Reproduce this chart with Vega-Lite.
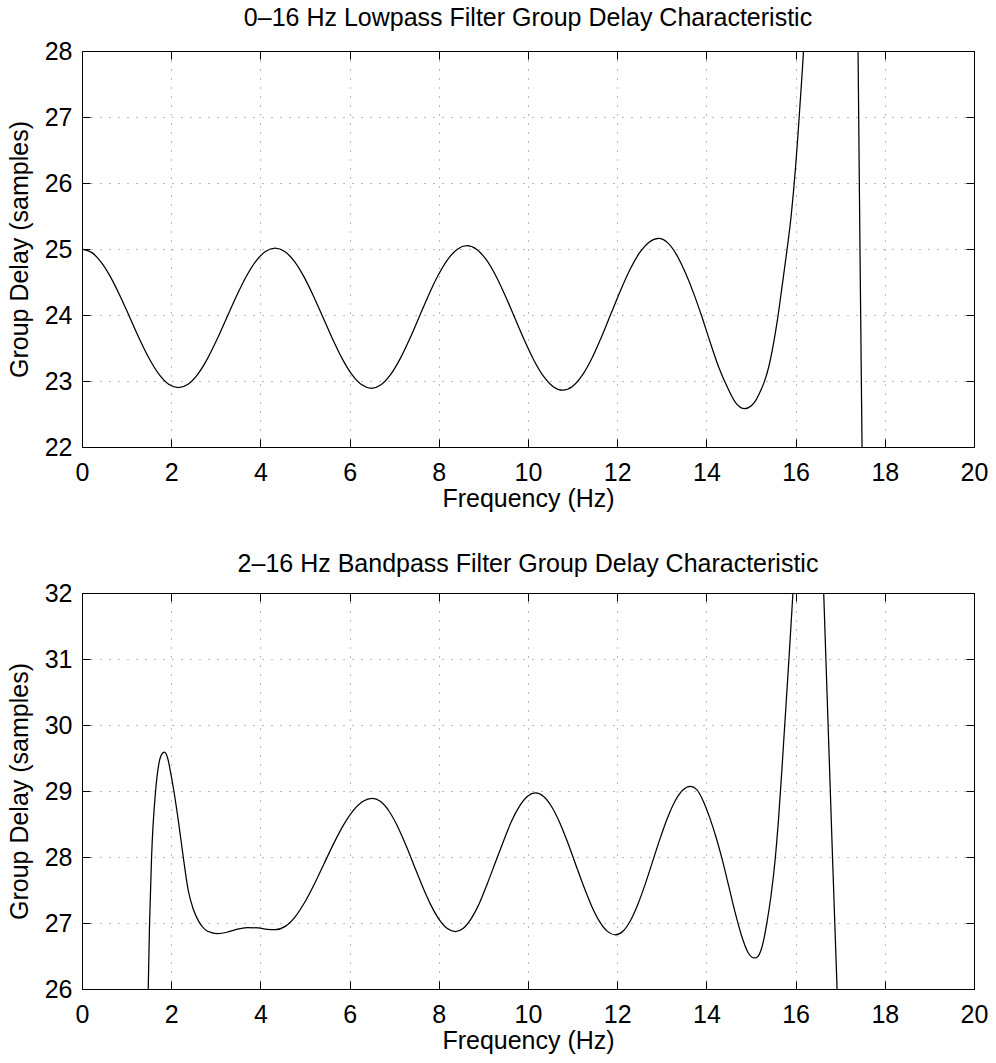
{
  "$schema": "https://vega.github.io/schema/vega-lite/v6.json",
  "background": "white",
  "padding": {"left": 7, "top": 6, "right": 10, "bottom": 3},
  "spacing": 41,
  "datasets": {
    "lp": [
      {"f": 0, "gd": 25.0}, {"f": 0.216, "gd": 24.949}, {"f": 0.432, "gd": 24.799}, {"f": 0.648, "gd": 24.567},
      {"f": 0.864, "gd": 24.274}, {"f": 1.08, "gd": 23.95}, {"f": 1.296, "gd": 23.626}, {"f": 1.512, "gd": 23.333},
      {"f": 1.728, "gd": 23.101}, {"f": 1.944, "gd": 22.951}, {"f": 2.16, "gd": 22.9}, {"f": 2.377, "gd": 22.952},
      {"f": 2.594, "gd": 23.102}, {"f": 2.811, "gd": 23.336}, {"f": 3.028, "gd": 23.631}, {"f": 3.245, "gd": 23.958},
      {"f": 3.462, "gd": 24.284}, {"f": 3.679, "gd": 24.579}, {"f": 3.896, "gd": 24.813}, {"f": 4.113, "gd": 24.963},
      {"f": 4.33, "gd": 25.015}, {"f": 4.546, "gd": 24.963}, {"f": 4.762, "gd": 24.812}, {"f": 4.978, "gd": 24.577},
      {"f": 5.194, "gd": 24.281}, {"f": 5.41, "gd": 23.953}, {"f": 5.626, "gd": 23.624}, {"f": 5.842, "gd": 23.328},
      {"f": 6.058, "gd": 23.093}, {"f": 6.274, "gd": 22.942}, {"f": 6.49, "gd": 22.89}, {"f": 6.704, "gd": 22.943},
      {"f": 6.918, "gd": 23.096}, {"f": 7.132, "gd": 23.335}, {"f": 7.346, "gd": 23.636}, {"f": 7.56, "gd": 23.97},
      {"f": 7.774, "gd": 24.304}, {"f": 7.988, "gd": 24.605}, {"f": 8.202, "gd": 24.844}, {"f": 8.416, "gd": 24.997},
      {"f": 8.63, "gd": 25.05}, {"f": 8.845, "gd": 24.996}, {"f": 9.06, "gd": 24.841}, {"f": 9.275, "gd": 24.599},
      {"f": 9.49, "gd": 24.293}, {"f": 9.705, "gd": 23.955}, {"f": 9.92, "gd": 23.617}, {"f": 10.135, "gd": 23.311},
      {"f": 10.35, "gd": 23.069}, {"f": 10.565, "gd": 22.914}, {"f": 10.78, "gd": 22.86}, {"f": 10.995, "gd": 22.916},
      {"f": 11.21, "gd": 23.08}, {"f": 11.425, "gd": 23.334}, {"f": 11.64, "gd": 23.655}, {"f": 11.855, "gd": 24.01},
      {"f": 12.07, "gd": 24.365}, {"f": 12.285, "gd": 24.686}, {"f": 12.5, "gd": 24.94}, {"f": 12.715, "gd": 25.104},
      {"f": 12.93, "gd": 25.16}, {"f": 13.123, "gd": 25.1}, {"f": 13.316, "gd": 24.93}, {"f": 13.509, "gd": 24.67},
      {"f": 13.702, "gd": 24.35}, {"f": 13.895, "gd": 23.98}, {"f": 14.088, "gd": 23.58}, {"f": 14.281, "gd": 23.2},
      {"f": 14.474, "gd": 22.9}, {"f": 14.667, "gd": 22.66}, {"f": 14.86, "gd": 22.58}, {"f": 15.0, "gd": 22.62},
      {"f": 15.1, "gd": 22.7}, {"f": 15.2, "gd": 22.83}, {"f": 15.3, "gd": 22.99}, {"f": 15.4, "gd": 23.22},
      {"f": 15.5, "gd": 23.55}, {"f": 15.6, "gd": 23.96}, {"f": 15.7, "gd": 24.45}, {"f": 15.8, "gd": 24.95},
      {"f": 15.9, "gd": 25.5}, {"f": 15.95, "gd": 25.85}, {"f": 16.0, "gd": 26.25}, {"f": 16.05, "gd": 26.7},
      {"f": 16.1, "gd": 27.2}, {"f": 16.15, "gd": 27.7}, {"f": 16.2, "gd": 28.25}, {"f": 16.3, "gd": 29.6},
      {"f": 16.5, "gd": 34}, {"f": 16.8, "gd": 42}, {"f": 17.1, "gd": 40},
      {"f": 17.3, "gd": 32}, {"f": 17.4, "gd": 28.0}, {"f": 17.49, "gd": 22.0}, {"f": 17.55, "gd": 20.5}
    ],
    "bp": [
      {"f": 1.40, "gd": 24.0}, {"f": 1.485, "gd": 26.0}, {"f": 1.515, "gd": 27.0}, {"f": 1.56, "gd": 28.0},
      {"f": 1.65, "gd": 29.0}, {"f": 1.72, "gd": 29.4}, {"f": 1.79, "gd": 29.56}, {"f": 1.85, "gd": 29.59},
      {"f": 1.92, "gd": 29.5}, {"f": 1.99, "gd": 29.27}, {"f": 2.06, "gd": 29.0}, {"f": 2.16, "gd": 28.55},
      {"f": 2.27, "gd": 28.0}, {"f": 2.38, "gd": 27.5}, {"f": 2.5, "gd": 27.2}, {"f": 2.62, "gd": 27.02},
      {"f": 2.76, "gd": 26.9}, {"f": 2.9, "gd": 26.855}, {"f": 3.05, "gd": 26.84}, {"f": 3.25, "gd": 26.86},
      {"f": 3.45, "gd": 26.9}, {"f": 3.7, "gd": 26.93}, {"f": 3.95, "gd": 26.925}, {"f": 4.15, "gd": 26.905},
      {"f": 4.34, "gd": 26.9}, {"f": 4.557, "gd": 26.949}, {"f": 4.774, "gd": 27.09}, {"f": 4.991, "gd": 27.31},
      {"f": 5.208, "gd": 27.588}, {"f": 5.425, "gd": 27.895}, {"f": 5.642, "gd": 28.203}, {"f": 5.859, "gd": 28.48},
      {"f": 6.076, "gd": 28.70}, {"f": 6.293, "gd": 28.841}, {"f": 6.51, "gd": 28.89}, {"f": 6.696, "gd": 28.84},
      {"f": 6.882, "gd": 28.697}, {"f": 7.068, "gd": 28.474}, {"f": 7.254, "gd": 28.192}, {"f": 7.44, "gd": 27.88},
      {"f": 7.626, "gd": 27.568}, {"f": 7.812, "gd": 27.286}, {"f": 7.998, "gd": 27.063}, {"f": 8.184, "gd": 26.92},
      {"f": 8.37, "gd": 26.87}, {"f": 8.55, "gd": 26.92}, {"f": 8.73, "gd": 27.07}, {"f": 8.91, "gd": 27.30},
      {"f": 9.09, "gd": 27.60}, {"f": 9.27, "gd": 27.92}, {"f": 9.45, "gd": 28.24}, {"f": 9.63, "gd": 28.54},
      {"f": 9.81, "gd": 28.77}, {"f": 9.99, "gd": 28.92}, {"f": 10.17, "gd": 28.97}, {"f": 10.349, "gd": 28.917},
      {"f": 10.528, "gd": 28.765}, {"f": 10.707, "gd": 28.527}, {"f": 10.886, "gd": 28.227}, {"f": 11.065, "gd": 27.895},
      {"f": 11.244, "gd": 27.563}, {"f": 11.423, "gd": 27.263}, {"f": 11.602, "gd": 27.025}, {"f": 11.781, "gd": 26.873},
      {"f": 11.96, "gd": 26.82}, {"f": 12.128, "gd": 26.875}, {"f": 12.296, "gd": 27.035}, {"f": 12.464, "gd": 27.284},
      {"f": 12.632, "gd": 27.597}, {"f": 12.8, "gd": 27.945}, {"f": 12.968, "gd": 28.293}, {"f": 13.136, "gd": 28.606},
      {"f": 13.304, "gd": 28.855}, {"f": 13.472, "gd": 29.015}, {"f": 13.64, "gd": 29.07}, {"f": 13.784, "gd": 29.02},
      {"f": 13.928, "gd": 28.85}, {"f": 14.072, "gd": 28.6}, {"f": 14.216, "gd": 28.3}, {"f": 14.36, "gd": 27.95},
      {"f": 14.504, "gd": 27.55}, {"f": 14.648, "gd": 27.15}, {"f": 14.792, "gd": 26.8}, {"f": 14.936, "gd": 26.55},
      {"f": 15.08, "gd": 26.47}, {"f": 15.15, "gd": 26.49}, {"f": 15.22, "gd": 26.58}, {"f": 15.29, "gd": 26.76},
      {"f": 15.36, "gd": 27.02}, {"f": 15.45, "gd": 27.42}, {"f": 15.54, "gd": 27.95}, {"f": 15.62, "gd": 28.6},
      {"f": 15.7, "gd": 29.4}, {"f": 15.78, "gd": 30.25}, {"f": 15.86, "gd": 31.1}, {"f": 15.94, "gd": 32.0},
      {"f": 16.02, "gd": 32.9}, {"f": 16.3, "gd": 36}, {"f": 16.5, "gd": 35}, {"f": 16.63, "gd": 32.0},
      {"f": 16.93, "gd": 26.0}, {"f": 17.0, "gd": 24.6}
    ]
  },
  "config": {
    "view": {"stroke": null},
    "title": {"font": "Liberation Sans", "fontSize": 25, "fontWeight": "normal", "color": "black", "anchor": "middle"},
    "axis": {
      "labelFont": "Liberation Sans", "labelFontSize": 25, "labelColor": "black",
      "titleFont": "Liberation Sans", "titleFontSize": 25, "titleFontWeight": "normal", "titleColor": "black",
      "domainColor": "black", "domainWidth": 1, "tickColor": "black", "tickWidth": 1, "tickSize": -8,
      "labelFlush": false, "labelOverlap": false, "labelBound": false,
      "gridColor": "black", "gridOpacity": 0.55, "gridDash": [1, 8], "gridWidth": 1
    }
  },
  "vconcat": [
    {
      "title": {"text": "0–16 Hz Lowpass Filter Group Delay Characteristic", "offset": -12, "baseline": "alphabetic"},
      "width": 892, "height": 396,
      "data": {"name": "lp"},
      "layer": [
        {
          "mark": {"type": "line", "color": "black", "strokeWidth": 1.25, "clip": true, "interpolate": "monotone"},
          "encoding": {
            "x": {"field": "f", "type": "quantitative", "scale": {"domain": [0, 20], "nice": false, "zero": false},
                  "axis": {"orient": "bottom", "values": [0, 2, 4, 6, 8, 10, 12, 14, 16, 18, 20], "title": "Frequency (Hz)", "labelPadding": 21, "titlePadding": 1, "grid": true}},
            "y": {"field": "gd", "type": "quantitative", "scale": {"domain": [22, 28], "nice": false, "zero": false},
                  "axis": {"orient": "left", "values": [22, 23, 24, 25, 26, 27, 28], "title": "Group Delay (samples)", "labelPadding": 18, "titlePadding": 12, "grid": true}}
          }
        },
        {
          "mark": {"type": "line", "opacity": 0, "clip": true},
          "encoding": {
            "x": {"field": "f", "type": "quantitative", "scale": {"domain": [0, 20], "nice": false, "zero": false},
                  "axis": {"orient": "top", "values": [0, 2, 4, 6, 8, 10, 12, 14, 16, 18, 20], "labels": false, "title": null, "grid": false}},
            "y": {"field": "gd", "type": "quantitative", "scale": {"domain": [22, 28], "nice": false, "zero": false},
                  "axis": {"orient": "right", "values": [22, 23, 24, 25, 26, 27, 28], "labels": false, "title": null, "grid": false}}
          }
        }
      ],
      "resolve": {"scale": {"x": "independent", "y": "independent"}}
    },
    {
      "title": {"text": "2–16 Hz Bandpass Filter Group Delay Characteristic", "offset": -16, "baseline": "alphabetic"},
      "width": 892, "height": 396,
      "data": {"name": "bp"},
      "layer": [
        {
          "mark": {"type": "line", "color": "black", "strokeWidth": 1.25, "clip": true, "interpolate": "monotone"},
          "encoding": {
            "x": {"field": "f", "type": "quantitative", "scale": {"domain": [0, 20], "nice": false, "zero": false},
                  "axis": {"orient": "bottom", "values": [0, 2, 4, 6, 8, 10, 12, 14, 16, 18, 20], "title": "Frequency (Hz)", "labelPadding": 21, "titlePadding": 1, "grid": true}},
            "y": {"field": "gd", "type": "quantitative", "scale": {"domain": [26, 32], "nice": false, "zero": false},
                  "axis": {"orient": "left", "values": [26, 27, 28, 29, 30, 31, 32], "title": "Group Delay (samples)", "labelPadding": 18, "titlePadding": 12, "grid": true}}
          }
        },
        {
          "mark": {"type": "line", "opacity": 0, "clip": true},
          "encoding": {
            "x": {"field": "f", "type": "quantitative", "scale": {"domain": [0, 20], "nice": false, "zero": false},
                  "axis": {"orient": "top", "values": [0, 2, 4, 6, 8, 10, 12, 14, 16, 18, 20], "labels": false, "title": null, "grid": false}},
            "y": {"field": "gd", "type": "quantitative", "scale": {"domain": [26, 32], "nice": false, "zero": false},
                  "axis": {"orient": "right", "values": [26, 27, 28, 29, 30, 31, 32], "labels": false, "title": null, "grid": false}}
          }
        }
      ],
      "resolve": {"scale": {"x": "independent", "y": "independent"}}
    }
  ]
}
